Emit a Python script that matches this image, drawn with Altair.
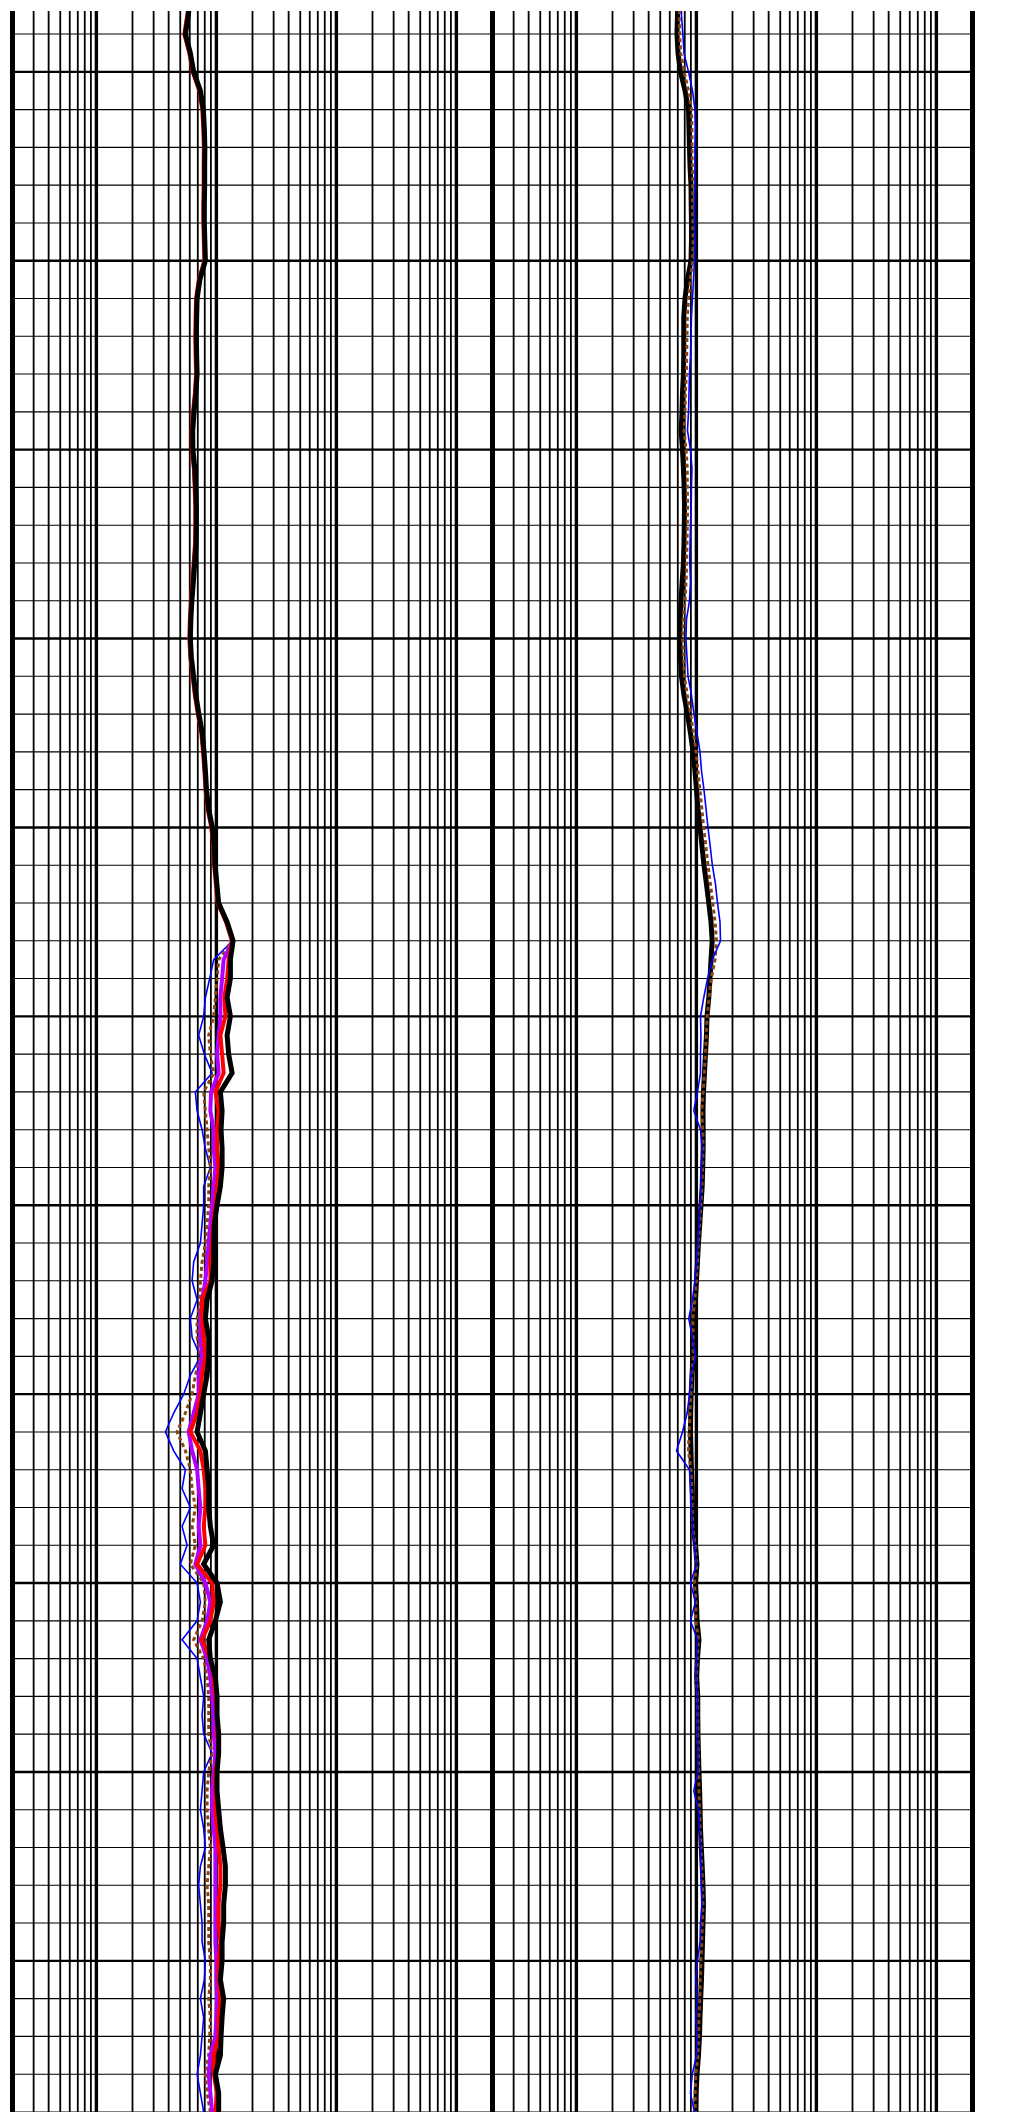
import altair as alt
import pandas as pd

# depth samples (every 5 units); 10-unit minor / 50-unit major depth grid
DEPTH = list(range(1980, 2550, 5))

# ---------------- left track (0.2 - 2000, log) ----------------
L_BLACK_UP = [6.07, 5.84, 5.52, 6.07, 6.47, 7.36, 7.79, 7.94, 8.02, 7.99,
              7.99, 7.94, 7.94, 8.02, 8.10, 7.29, 6.91, 6.85, 6.81, 6.85,
              6.91, 6.75, 6.52, 6.35, 6.37, 6.62, 6.72, 6.81, 6.81, 6.77,
              6.60, 6.43, 6.25, 6.13, 6.07, 6.19, 6.46, 6.75, 7.15, 7.64,
              7.90, 8.10, 8.28, 8.61, 9.26, 9.62, 9.77, 10.10, 10.45, 12.28]
L_BLACK_LO = [13.78, 13.09, 13.09, 12.28, 13.09, 12.28, 12.66, 13.52,
              10.80, 11.16, 10.94, 11.16, 11.16, 10.80, 10.13, 9.62,
              9.50, 9.50, 9.21, 8.37, 8.10, 8.63, 8.63, 8.37,
              7.84, 7.36, 6.91, 8.10, 8.37, 8.63, 8.63, 8.91,
              9.50, 7.84, 10.13, 10.80, 9.81, 8.63, 8.91, 9.81,
              10.13, 10.13, 10.45, 10.45, 10.13, 10.13, 10.45, 10.80,
              11.37, 11.89, 11.89, 11.50, 11.50, 11.16, 11.16, 10.80,
              11.50, 11.16, 10.94, 10.80, 9.81, 10.45, 10.45, 10.45]
L_RED_UP = [5.95, 5.72, 5.41, 5.95, 6.34, 7.21, 7.63, 7.78, 7.86, 7.83,
            7.83, 7.78, 7.78, 7.86, 7.94, 7.14, 6.77, 6.71, 6.67, 6.71,
            6.77, 6.62, 6.39, 6.22, 6.24, 6.49, 6.59, 6.67, 6.67, 6.63,
            6.47, 6.30, 6.13, 6.01, 5.95, 6.07, 6.33, 6.62, 7.01, 7.49,
            7.74, 7.94, 8.11, 8.44, 9.07, 9.43, 9.57, 9.90, 10.24, 12.03]
L_RED_LO = [13.46, 12.66, 12.28, 11.66, 11.89, 10.80, 11.16, 11.50,
            9.81, 10.45, 10.13, 10.13, 10.45, 10.13, 9.81, 9.39,
            9.21, 8.91, 8.91, 7.60, 7.60, 7.84, 8.10, 7.60,
            7.36, 6.91, 6.07, 7.36, 7.84, 8.10, 8.10, 7.84,
            8.10, 6.91, 9.21, 9.50, 8.91, 7.60, 8.91, 9.50,
            9.81, 10.13, 10.13, 10.45, 9.81, 9.81, 9.81, 10.13,
            10.45, 10.80, 10.80, 10.45, 10.45, 10.80, 10.45, 10.45,
            10.80, 10.45, 10.45, 9.50, 9.50, 10.13, 9.81, 9.81]
L_PURPLE_UP = [6.01, 5.78, 5.46, 6.01, 6.41, 7.29, 7.71, 7.86, 7.94, 7.91,
               7.91, 7.86, 7.86, 7.94, 8.02, 7.22, 6.84, 6.78, 6.74, 6.78,
               6.84, 6.68, 6.45, 6.29, 6.31, 6.55, 6.65, 6.74, 6.74, 6.70,
               6.53, 6.37, 6.19, 6.07, 6.01, 6.13, 6.40, 6.68, 7.08, 7.56,
               7.82, 8.02, 8.20, 8.52, 9.17, 9.52, 9.67, 10.0, 10.35, 12.16]
L_PURPLE_LO = [13.59, 11.50, 11.16, 10.80, 10.80, 10.45, 10.13, 10.45,
               9.03, 8.91, 9.50, 9.50, 9.81, 9.50, 9.21, 8.91,
               8.63, 8.37, 8.10, 7.60, 7.36, 7.36, 7.60, 7.12,
               7.12, 6.47, 5.88, 6.28, 6.91, 7.12, 7.36, 7.12,
               7.36, 6.68, 8.10, 8.91, 8.37, 7.36, 8.37, 8.91,
               9.21, 9.50, 9.50, 9.81, 9.50, 9.21, 9.21, 9.50,
               9.81, 9.81, 9.81, 9.81, 9.81, 9.81, 10.0, 10.0,
               10.13, 10.0, 9.81, 8.91, 8.63, 8.91, 9.21, 9.21]
L_BROWN_LO = [13.59, 10.45, 10.13, 9.81, 9.50, 8.63, 8.91, 9.50,
              7.84, 8.10, 8.37, 8.63, 8.91, 8.63, 8.63, 8.37,
              8.10, 7.60, 7.36, 7.36, 6.91, 6.91, 7.36, 6.68,
              6.28, 5.52, 4.70, 5.52, 6.07, 6.28, 6.68, 6.28,
              6.68, 6.07, 7.84, 8.10, 7.60, 6.47, 7.84, 8.37,
              8.63, 8.63, 8.63, 9.21, 8.63, 8.37, 8.37, 8.63,
              8.91, 8.63, 8.37, 8.63, 8.63, 8.63, 8.91, 8.91,
              8.63, 8.91, 8.79, 8.63, 8.10, 8.37, 8.91, 8.91]
L_BLUE_LO = [13.59, 9.50, 8.79, 8.10, 7.84, 7.12, 7.94, 9.21,
             6.68, 6.91, 7.60, 8.10, 8.91, 7.84, 7.84, 7.60,
             7.36, 6.47, 6.28, 6.91, 6.07, 6.28, 7.36, 6.07,
             5.34, 4.41, 3.76, 4.41, 5.52, 5.18, 6.07, 5.18,
             5.70, 5.01, 6.91, 7.36, 6.91, 5.18, 6.91, 7.36,
             7.84, 7.60, 7.84, 9.21, 7.84, 7.60, 7.36, 7.84,
             8.10, 7.36, 7.12, 7.36, 7.60, 7.60, 8.10, 7.94,
             7.36, 7.84, 7.60, 7.36, 6.91, 7.36, 7.84, 7.84]

# ---------------- right track (0.2 - 2000, log) ----------------
R_BLACK = [7.03, 6.96, 6.89, 7.03, 7.37, 8.04, 8.60, 8.68, 8.76, 8.85,
           9.02, 9.05, 9.10, 9.10, 9.02, 8.43, 8.04, 7.85, 7.85, 7.85,
           7.80, 7.66, 7.59, 7.47, 7.66, 7.80, 7.91, 7.96, 7.93, 7.88,
           7.80, 7.61, 7.44, 7.33, 7.27, 7.37, 7.51, 7.88, 8.43, 8.93,
           9.37, 9.73, 10.02, 10.31, 10.72, 11.14, 11.57, 12.14, 12.69, 13.24,
           13.54, 13.24, 12.99, 12.69, 12.26, 12.14, 11.91, 11.68, 11.46, 11.35,
           11.39, 11.39, 11.29, 11.18, 10.92, 10.67, 10.41, 10.21, 10.02, 9.83,
           9.55, 9.46, 9.40, 9.19, 9.05, 8.97, 8.93, 9.02, 9.10, 9.23,
           9.28, 9.40, 9.83, 10.12, 9.83, 10.02, 10.12, 10.51, 10.21, 10.06,
           10.27, 10.27, 10.31, 10.41, 10.51, 10.65, 10.74, 10.82, 10.99, 11.18,
           11.35, 11.46, 11.35, 11.25, 11.14, 11.03, 10.86, 10.72, 10.61, 10.41,
           10.12, 9.96, 9.92, 9.92]
R_BLUE = [7.59, 7.51, 7.72, 7.88, 8.60, 9.28, 9.73, 9.83, 9.73, 9.73,
          9.73, 9.64, 9.64, 9.73, 9.64, 9.46, 9.28, 9.10, 9.02, 8.93,
          8.76, 8.68, 8.60, 8.43, 8.93, 9.19, 9.10, 9.05, 8.93, 8.85,
          8.81, 8.93, 8.76, 8.27, 8.19, 8.35, 8.52, 9.10, 9.55, 10.12,
          10.72, 11.03, 11.57, 12.03, 12.49, 13.04, 13.59, 14.43, 15.0, 15.73,
          15.88, 13.59, 12.39, 11.53, 10.82, 10.92, 10.82, 10.82, 10.21, 9.51,
          10.82, 11.18, 11.03, 10.92, 10.72, 10.51, 10.31, 10.02, 9.73, 9.28,
          8.64, 9.28, 9.83, 9.02, 8.76, 8.38, 7.66, 6.83, 8.76, 8.93,
          9.10, 9.28, 9.64, 10.02, 8.93, 9.83, 8.93, 10.21, 10.02, 9.92,
          10.21, 10.21, 10.21, 10.31, 10.31, 9.51, 10.41, 10.61, 10.82, 10.92,
          11.03, 11.14, 10.82, 10.72, 10.21, 9.87, 10.21, 9.87, 10.12, 10.02,
          9.25, 8.93, 9.64, 9.64]
R_BROWN = [7.30, 7.20, 7.25, 7.40, 7.90, 8.60, 9.10, 9.20, 9.20, 9.25,
           9.35, 9.30, 9.35, 9.40, 9.30, 8.90, 8.60, 8.40, 8.35, 8.30,
           8.25, 8.10, 8.05, 7.90, 8.20, 8.40, 8.40, 8.45, 8.40, 8.35,
           8.30, 8.20, 8.05, 7.75, 7.70, 7.80, 7.95, 8.40, 8.95, 9.45,
           9.95, 10.30, 10.70, 11.10, 11.50, 12.00, 12.50, 13.10, 13.70, 14.30,
           14.70, 14.30, 13.30, 12.75, 12.30, 12.10, 11.90, 11.65, 11.40, 11.10,
           11.30, 11.35, 11.25, 11.12, 10.90, 10.65, 10.40, 10.20, 9.98, 9.70,
           9.35, 9.40, 9.45, 9.15, 8.98, 8.85, 8.70, 8.60, 9.00, 9.15,
           9.22, 9.35, 9.75, 10.05, 9.60, 9.95, 9.90, 10.40, 10.15, 10.00,
           10.22, 10.25, 10.28, 10.38, 10.45, 10.50, 10.65, 10.75, 10.92, 11.10,
           11.25, 11.35, 11.20, 11.10, 10.90, 10.75, 10.70, 10.50, 10.45, 10.30,
           9.90, 9.75, 9.80, 9.80]
R_RED = [7.10, 7.03, 6.97, 7.12, 7.50, 8.15, 8.72, 8.80, 8.88, 8.97,
         9.12, 9.15, 9.20, 9.20, 9.12, 8.55, 8.15, 7.96, 7.95, 7.96,
         7.90, 7.76, 7.69, 7.57, 7.76, 7.91, 8.02, 8.06, 8.03, 7.98,
         7.90, 7.72, 7.54, 7.43, 7.37, 7.47, 7.62, 7.99, 8.55, 9.05,
         9.50, 9.86, 10.15, 10.45, 10.86, 11.29, 11.72, 12.30, 12.85, 13.40,
         13.70, 13.40, 13.15, 12.85, 12.42, 12.30, 12.06, 11.83, 11.60, 11.50,
         11.54, 11.54, 11.44, 11.32, 11.06, 10.81, 10.55, 10.34, 10.15, 9.96,
         9.67, 9.58, 9.52, 9.31, 9.17, 9.08, 9.04, 9.14, 9.22, 9.35,
         9.40, 9.52, 9.96, 10.25, 9.96, 10.15, 10.25, 10.65, 10.34, 10.19,
         10.40, 10.40, 10.44, 10.55, 10.65, 10.79, 10.88, 10.96, 11.13, 11.32,
         11.50, 11.61, 11.50, 11.40, 11.28, 11.17, 11.00, 10.86, 10.75, 10.55,
         10.25, 10.09, 10.05, 10.05]
R_PURPLE = [6.96, 6.89, 6.82, 6.96, 7.30, 7.96, 8.51, 8.59, 8.67, 8.76,
            8.93, 8.96, 9.01, 9.01, 8.93, 8.35, 7.96, 7.77, 7.77, 7.77,
            7.72, 7.58, 7.51, 7.40, 7.58, 7.72, 7.83, 7.88, 7.85, 7.80,
            7.72, 7.53, 7.37, 7.26, 7.20, 7.30, 7.43, 7.80, 8.35, 8.84,
            9.28, 9.63, 9.92, 10.21, 10.61, 11.03, 11.45, 12.02, 12.56, 13.11,
            13.40, 13.11, 12.86, 12.56, 12.14, 12.02, 11.79, 11.56, 11.35, 11.24,
            11.28, 11.28, 11.18, 11.07, 10.81, 10.56, 10.31, 10.11, 9.92, 9.73,
            9.45, 9.37, 9.31, 9.10, 8.96, 8.88, 8.84, 8.93, 9.01, 9.14,
            9.19, 9.31, 9.73, 10.02, 9.73, 9.92, 10.02, 10.40, 10.11, 9.96,
            10.17, 10.17, 10.21, 10.31, 10.40, 10.54, 10.63, 10.71, 10.88, 11.07,
            11.24, 11.35, 11.24, 11.14, 11.03, 10.92, 10.75, 10.61, 10.50, 10.31,
            10.02, 9.86, 9.82, 9.82]

# grid definition
X_MINOR = [0.3, 0.4, 0.5, 0.6, 0.7, 0.8, 0.9, 2, 3, 4, 5, 6, 7, 8, 9,
           20, 30, 40, 50, 60, 70, 80, 90, 200, 300, 400, 500, 600, 700, 800, 900]
X_DECADE = [1, 10, 100, 1000]
X_EDGE = [0.2, 2000]
Y_MAJOR = [2000, 2050, 2100, 2150, 2200, 2250, 2300, 2350, 2400, 2450, 2500]
Y_MINOR = [d for d in range(1990, 2550, 10) if d not in Y_MAJOR]

TOP, BOT = 1983.9, 2540.8
W, H = 480, 2104

BLACK, RED, PURPLE, BROWN, BLUE = "#000000", "#ff0000", "#b000ff", "#8b4513", "#0000ff"

left_curves = [
    (L_BLACK_UP + L_BLUE_LO, BLUE, 1.6, None),
    (L_BLACK_UP + L_BROWN_LO, BROWN, 3, [4, 3]),
    (L_PURPLE_UP + L_PURPLE_LO, PURPLE, 4, None),
    (L_RED_UP + L_RED_LO, RED, 4, None),
    (L_BLACK_UP + L_BLACK_LO, BLACK, 5, None),
]
right_curves = [
    (R_PURPLE, PURPLE, 1.5, None),
    (R_RED, RED, 1.5, None),
    (R_BLACK, BLACK, 5, None),
    (R_BROWN, BROWN, 3, [4, 3]),
    (R_BLUE, BLUE, 1.6, None),
]
for c in left_curves + right_curves:
    assert len(c[0]) == len(DEPTH), len(c[0])


def track(curves):
    xs = alt.Scale(type="log", domain=[0.2, 2000], nice=False)
    ys = alt.Scale(domain=[TOP, BOT], reverse=True, nice=False, zero=False)
    gv = pd.DataFrame({"v": X_MINOR + X_DECADE + X_EDGE,
                       "w": [1.8] * len(X_MINOR) + [3.4] * len(X_DECADE) + [5] * len(X_EDGE)})
    gh = pd.DataFrame({"d": Y_MINOR + Y_MAJOR,
                       "w": [1.1] * len(Y_MINOR) + [2.4] * len(Y_MAJOR)})
    hr = alt.Chart(gh).mark_rule(color="black").encode(
        y=alt.Y("d:Q", scale=ys, axis=None),
        size=alt.Size("w:Q", scale=None, legend=None))
    vr = alt.Chart(gv).mark_rule(color="black").encode(
        x=alt.X("v:Q", scale=xs, axis=None),
        size=alt.Size("w:Q", scale=None, legend=None))
    layers = [hr, vr]
    for vals, color, width, dash in curves:
        df = pd.DataFrame({"depth": DEPTH, "val": vals})
        kw = dict(color=color, strokeWidth=width, clip=True, strokeJoin="miter")
        if dash:
            kw["strokeDash"] = dash
        layers.append(alt.Chart(df).mark_line(**kw).encode(
            x=alt.X("val:Q", scale=xs, axis=None),
            y=alt.Y("depth:Q", scale=ys, axis=None),
            order=alt.Order("depth:Q")))
    return alt.layer(*layers).properties(width=W, height=H)


chart = alt.hconcat(track(left_curves), track(right_curves), spacing=0,
                    bounds="flush").properties(
    padding={"left": 1.5, "top": 0, "right": 0, "bottom": 0}
).configure_view(stroke=None)

chart.save("out.html", embed_options={"renderer": "svg", "actions": False})
